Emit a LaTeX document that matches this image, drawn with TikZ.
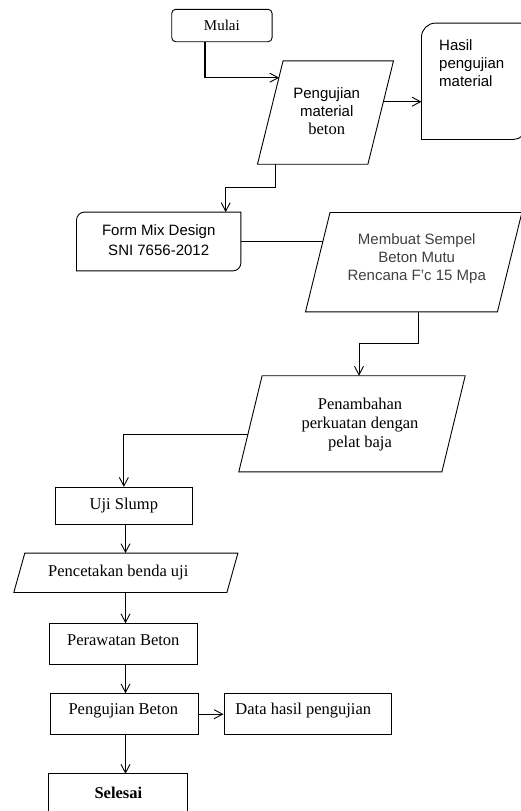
\documentclass[tikz,border=0pt]{standalone}
\usepackage{fontspec}
\setmainfont{Liberation Serif}
\setsansfont{Liberation Sans}
\usetikzlibrary{arrows.meta,calc}
\definecolor{txtgray}{RGB}{64,64,64}
\tikzset{
 ln/.style={line width=0.9pt},
 arr/.style={ln,-{Straight Barb[length=8.5pt,width=9pt]}},
 box/.style={draw,ln,rectangle,inner sep=0pt},
 ghost/.style={rectangle,inner sep=0pt},
 serif/.style={font=\fontsize{16.5}{19}\selectfont},
 sans/.style={font=\sffamily\fontsize{15}{18}\selectfont},
}
\newcommand\mypara[2]{\draw[ln] ([xshift=#2]#1.north west) -- (#1.north east) -- ([xshift=-#2]#1.south east) -- (#1.south west) -- cycle;}
\begin{document}
\begin{tikzpicture}[x=1pt,y=-1pt]
\useasboundingbox (0,0) rectangle (521,811);
\clip (0,0) rectangle (521,811);

% ---------- nodes ----------
\node[box,rounded corners=4pt,minimum width=100.3pt,minimum height=32.4pt,font=\fontsize{15}{18}\selectfont] (mulai) at (221.9,25.5) {Mulai};

\node[ghost,minimum width=135.6pt,minimum height=103pt] (p1) at (325.5,112.5) {};
\mypara{p1}{25.6pt}
\node[sans,align=center] (p1t) at (326.7,111.5) {Pengujian\\material\\{\rmfamily\fontsize{16.5}{18}\selectfont beton}};

\node[ghost,minimum width=104.3pt,minimum height=116pt] (hasil) at (473.85,81.3) {};
\draw[ln] ([xshift=14pt]hasil.north west) -- (hasil.north east) -- ([yshift=13pt]hasil.south east) arc[start angle=0,end angle=-90,radius=13pt] -- (hasil.south west) -- ([yshift=-14pt]hasil.north west) arc[start angle=180,end angle=90,radius=14pt] -- cycle;
\node[sans,align=left,anchor=north west,inner sep=0pt] (hasilt) at (439,39) {Hasil\\pengujian\\material};

\node[ghost,minimum width=164pt,minimum height=58.4pt] (form) at (158.7,241.5) {};
\draw[ln] ([xshift=8pt]form.north west) -- (form.north east) -- ([yshift=8pt]form.south east) arc[start angle=0,end angle=-90,radius=8pt] -- (form.south west) -- ([yshift=-8pt]form.north west) arc[start angle=180,end angle=90,radius=8pt] -- cycle;
\node[sans,align=center,font=\sffamily\fontsize{15}{20}\selectfont] (formt) at (158.7,240.5) {Form Mix Design\\SNI 7656-2012};

\node[ghost,minimum width=216pt,minimum height=99pt] (mb) at (413.7,262.2) {};
\mypara{mb}{24.5pt}
\node[sans,align=center,text=txtgray] (mbt) at (416.7,259) {Membuat Sempel\\Beton Mutu\\Rencana F’c 15 Mpa};

\node[ghost,minimum width=226pt,minimum height=95.7pt] (pen) at (352,423.8) {};
\mypara{pen}{23.3pt}
\node[serif,align=center] (pent) at (360,424.5) {Penambahan\\perkuatan dengan\\pelat baja};

\node[box,serif,minimum width=137.7pt,minimum height=36.7pt] (uji) at (123.85,505.65) {Uji Slump};

\node[ghost,minimum width=223.7pt,minimum height=39pt] (pc) at (125.85,572.8) {};
\mypara{pc}{11pt}
\node[serif] (pct) at (118.3,572.3) {Pencetakan benda uji};

\node[box,minimum width=148.4pt,minimum height=40.6pt] (per) at (123.5,644) {};
\node[serif] (pert) at (123.3,640.5) {Perawatan Beton};

\node[box,minimum width=148.3pt,minimum height=41pt] (pb) at (124.15,714.2) {};
\node[serif] (pbt) at (123.3,710.5) {Pengujian Beton};

\node[box,minimum width=167.3pt,minimum height=41pt] (data) at (307.65,714.2) {};
\node[serif] (datat) at (303.3,710.5) {Data hasil pengujian};

\node[ghost,minimum width=138.7pt,minimum height=38pt] (sel) at (118.35,793) {};
\draw[ln] (sel.south west) -- (sel.north west) -- (sel.north east) -- (sel.south east);
\node[serif,font=\bfseries\fontsize{16.5}{19}\selectfont] (selt) at (118.35,793.3) {Selesai};

% ---------- connectors ----------
\coordinate (k1) at (205,77.7);
\coordinate (p1in) at (279.2,77.7);
\draw[line width=2.6pt] (mulai.south -| k1) -- (k1);
\draw[arr] (k1) -- (p1in);

\coordinate (p1out) at (383.4,101.7);
\draw[arr] (p1out) -- (p1out -| hasil.west);

\coordinate (b1) at (275,164);
\coordinate (b2) at (225.7,187.3);
\draw[arr] (b1) |- (b2) -- (b2 |- form.north);

\coordinate (mbin) at (322.9,241.5);
\draw[ln] (form.east) -- (mbin);

\coordinate (c1) at (418.3,311.7);
\coordinate (c2) at (359,343.3);
\draw[arr] (c1) |- (c2) -- (c2 |- pen.north);

\coordinate (d1) at (248.2,434);
\draw[arr] (d1) -| (uji.north);

\coordinate (e1) at (125.5,524);
\draw[arr] (uji.south -| e1) -- (pc.north -| e1);
\draw[arr] (pc.south -| e1) -- (per.north -| e1);
\draw[arr] (per.south -| e1) -- (pb.north -| e1);
\draw[arr] (pb.east) -- (data.west);
\draw[arr] (pb.south -| e1) -- (sel.north -| e1);
\end{tikzpicture}
\end{document}
